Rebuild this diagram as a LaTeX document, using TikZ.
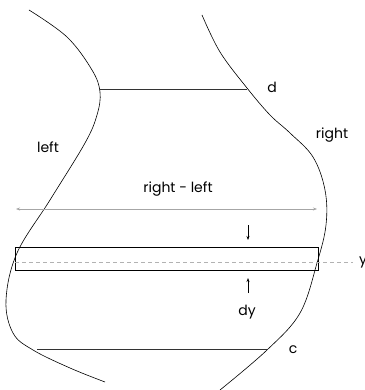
\documentclass[tikz,border=0pt]{standalone}
\usepackage{fontspec}
\setmainfont{Poppins}
\usetikzlibrary{arrows.meta}
\begin{document}
\begin{tikzpicture}[x=1pt,y=-1pt,
  curve/.style={line width=0.6pt,black},
  lbl/.style={font=\fontsize{14}{16}\selectfont,inner sep=0pt},
  tip/.style={-{Stealth[length=4pt,width=3pt]},line width=0.6pt}]
\useasboundingbox (0,0) rectangle (364,390);
\clip (0,0) rectangle (364,390);
% left curve
\draw[curve] plot[smooth,tension=0.6] coordinates {(29,10) (67,37) (92,70) (100,92) (97,115) (85,143) (50,200) (17,253) (6,300) (13,333) (33,350) (70,368) (105,382)};
% right curve
\draw[curve] plot[smooth,tension=0.6] coordinates {(202,15) (220,52) (247,88) (270,115) (290,133) (313,157) (325,190) (326,225) (317,263) (300,313) (267,350) (220,390)};
% horizontal chords
\coordinate (dl) at (100,89); \coordinate (dr) at (247,89);
\coordinate (cl) at (37,349); \coordinate (cr) at (267,349);
\draw[line width=0.6pt,black!80] (dl) -- (dr);
\draw[line width=0.6pt,black!80] (cl) -- (cr);
% labels
\node[lbl] (d) at (272,87) {d};
\node[lbl] (c) at (293,350) {c};
\node[lbl] (right) at (332,135) {right};
\node[lbl] (left) at (48,147) {left};
\node[lbl] (rl) at (178,189) {right - left};
% width arrow
\coordinate (wa) at (16,209); \coordinate (wb) at (317,209);
\draw[gray!70,line width=0.6pt,{Stealth[length=4pt,width=3pt]}-{Stealth[length=4pt,width=3pt]}] (wa) -- (wb);
% strip
\node[draw,line width=0.6pt,minimum width=303pt,minimum height=23pt,inner sep=0pt,anchor=north west] (strip) at (15,247) {};
\coordinate (ya) at (15,262); \coordinate (yb) at (353,262);
\draw[gray!60,dashed,line width=0.6pt,dash pattern=on 4pt off 3pt] (ya) -- (yb);
\node[lbl,anchor=west] (y) at (359,262) {y};
% dy arrows
\coordinate (a1) at (248,225); \coordinate (a2) at (248,240);
\coordinate (b1) at (248,293); \coordinate (b2) at (248,278);
\draw[tip] (a1) -- (a2);
\draw[tip] (b1) -- (b2);
\node[lbl] (dy) at (247,312) {dy};
\end{tikzpicture}
\end{document}
